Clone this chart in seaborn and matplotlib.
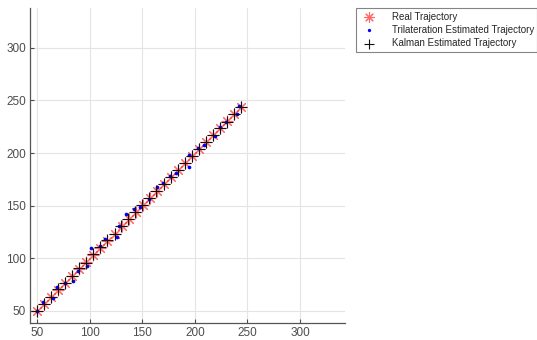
import matplotlib
matplotlib.use('Agg')  # headless
import matplotlib.pyplot as plt
import seaborn as sns

# -------------------------------------------------------------
# Data
# -------------------------------------------------------------
real_x = [50.0, 56.7, 63.4, 70.1, 76.8, 83.4, 90.1, 96.8, 103.5, 110.2,
          116.9, 123.6, 130.3, 137.0, 143.7, 150.3, 157.0, 163.7, 170.4, 177.1,
          183.8, 190.5, 197.2, 203.9, 210.6, 217.2, 223.9, 230.6, 237.3, 244.0]
real_y = [50.0, 56.7, 63.4, 70.1, 76.8, 83.4, 90.1, 96.8, 103.5, 110.2,
          116.9, 123.6, 130.3, 137.0, 143.7, 150.3, 157.0, 163.7, 170.4, 177.1,
          183.8, 190.5, 197.2, 203.9, 210.6, 217.2, 223.9, 230.6, 237.3, 244.0]

tri_x = [50.0, 55.4, 64.9, 69.0, 76.3, 84.2, 88.9, 97.6, 101.6, 109.5,
         114.2, 126.0, 128.2, 134.8, 141.8, 147.5, 156.6, 163.9, 169.5, 176.5,
         182.3, 194.0, 194.0, 202.8, 208.9, 218.7, 224.0, 230.0, 240.5, 242.0]
tri_y = [50.0, 58.9, 62.2, 73.2, 77.0, 78.6, 88.4, 93.1, 110.3, 111.9,
         118.8, 120.7, 130.3, 142.6, 146.8, 148.7, 156.6, 167.4, 172.0, 178.5,
         181.0, 186.7, 197.8, 204.8, 208.0, 215.9, 224.5, 229.5, 237.2, 245.0]

kal_x = [50.0, 56.2, 63.6, 69.8, 76.5, 83.0, 89.6, 96.5, 103.2, 110.0,
         116.4, 123.8, 130.0, 136.4, 143.4, 150.0, 156.5, 163.5, 170.2, 177.0,
         183.5, 190.6, 197.0, 203.8, 210.2, 217.0, 223.8, 230.4, 237.0, 243.6]
kal_y = [50.0, 57.0, 63.0, 70.5, 76.6, 82.8, 90.4, 96.0, 104.0, 110.5,
         117.2, 123.0, 130.6, 137.8, 144.2, 150.5, 157.4, 164.0, 170.8, 177.4,
         184.0, 190.2, 197.4, 204.0, 210.8, 217.0, 223.6, 230.0, 237.0, 243.8]

labels = ["Real Trajectory", "Trilateration Estimated Trajectory",
          "Kalman Estimated Trajectory"]

# -------------------------------------------------------------
# Plot
# -------------------------------------------------------------
sns.set_style("whitegrid")
plt.rcParams['font.family'] = ['Liberation Sans', 'DejaVu Sans']

fig = plt.figure(figsize=(5.37, 3.4), dpi=100)
ax = fig.add_axes([0.056, 0.05, 0.587, 0.927])

sns.scatterplot(x=real_x, y=real_y, ax=ax, marker=(8, 2, 0), color='#ff2a2a',
                s=60, linewidth=0.8, alpha=0.7, label=labels[0], zorder=3)
sns.scatterplot(x=tri_x, y=tri_y, ax=ax, marker='o', color='#0000ff',
                s=7, linewidth=0, label=labels[1], zorder=4)
sns.scatterplot(x=kal_x, y=kal_y, ax=ax, marker='+', color='#111111',
                s=70, linewidth=0.8, label=labels[2], zorder=5)

ax.set_xlim(43.3, 343)
ax.set_ylim(38.6, 338)
ax.set_xticks([50, 100, 150, 200, 250, 300])
ax.set_yticks([50, 100, 150, 200, 250, 300])
ax.grid(True, color='#e4e4e4', linewidth=0.8)
ax.tick_params(direction='in', length=3, labelsize=8.5, colors='#4d4d4d',
               pad=3, left=True, bottom=True)
for side in ['top', 'right']:
    ax.spines[side].set_visible(False)
for side in ['left', 'bottom']:
    ax.spines[side].set_color('#555555')
    ax.spines[side].set_linewidth(0.9)

leg = ax.legend(loc='upper left', bbox_to_anchor=(0.663, 0.976),
                bbox_transform=fig.transFigure, fontsize=7, frameon=True,
                fancybox=False, edgecolor='#666666', borderpad=0.35,
                labelspacing=0.35, handletextpad=1.3, borderaxespad=0,
                markerscale=0.9)
leg.get_frame().set_linewidth(0.8)

fig.savefig("out.png", dpi=100)
